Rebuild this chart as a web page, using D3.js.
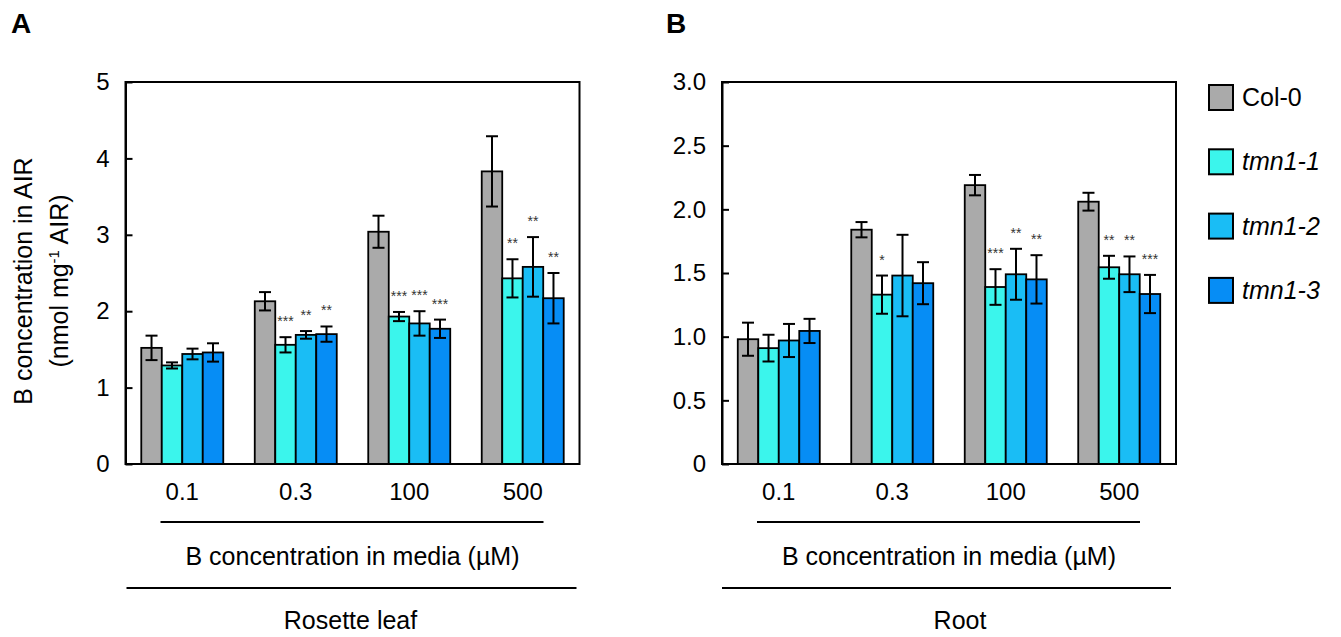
<!DOCTYPE html>
<html>
<head>
<meta charset="utf-8">
<script src="https://cdn.jsdelivr.net/npm/d3@7"></script>
<style>
  body { margin: 0; background: #fff; }
  svg { font-family: "Liberation Sans", Arial, sans-serif; }
</style>
</head>
<body>
<svg id="chart" width="1341" height="637"></svg>
<script>
// data
const categories = ["0.1", "0.3", "100", "500"];
const series = ["Col-0", "tmn1-1", "tmn1-2", "tmn1-3"];
const colors = ["#aaaaaa", "#3bf5ec", "#1abdf5", "#068df5"];

// rosette leaf (nmol mg-1 AIR)
const leafCol0 = [1.52, 2.13, 3.04, 3.83];
const leafTmn11 = [1.29, 1.56, 1.93, 2.43];
const leafTmn12 = [1.44, 1.69, 1.84, 2.58];
const leafTmn13 = [1.46, 1.70, 1.77, 2.17];
const leafErrCol0 = [0.16, 0.12, 0.21, 0.46];
const leafErrTmn11 = [0.04, 0.10, 0.06, 0.25];
const leafErrTmn12 = [0.07, 0.05, 0.16, 0.39];
const leafErrTmn13 = [0.12, 0.10, 0.12, 0.33];
const leafStars = [["", "", "", ""], ["", "***", "***", "**"], ["", "**", "***", "**"], ["", "**", "***", "**"]];
const leafTicks = [0, 1, 2, 3, 4, 5];

// root
const rootCol0 = [0.98, 1.84, 2.19, 2.06];
const rootTmn11 = [0.91, 1.33, 1.39, 1.545];
const rootTmn12 = [0.97, 1.48, 1.49, 1.49];
const rootTmn13 = [1.045, 1.42, 1.45, 1.335];
const rootErrCol0 = [0.13, 0.06, 0.08, 0.07];
const rootErrTmn11 = [0.105, 0.15, 0.14, 0.09];
const rootErrTmn12 = [0.13, 0.32, 0.20, 0.14];
const rootErrTmn13 = [0.095, 0.165, 0.19, 0.15];
const rootStars = [["", "", "", ""], ["", "*", "***", "**"], ["", "", "**", "**"], ["", "", "**", "***"]];
const rootTicks = [0, 0.5, 1, 1.5, 2, 2.5, 3];

const svg = d3.select("#chart");

function drawPanel(opt) {
  const x0 = opt.left, top = 82, w = 454, h = 382;
  const g = svg.append("g").attr("transform", `translate(${x0},${top})`);

  const x = d3.scaleBand().domain(categories).range([0, w])
    .paddingInner(0.2775).paddingOuter(0.139);
  const xs = d3.scaleBand().domain(series).range([0, x.bandwidth()]);
  const y = d3.scaleLinear().domain([0, opt.max]).range([h, 0]);

  // rows: one per bar
  const rows = [];
  series.forEach((s, si) => {
    categories.forEach((c, ci) => {
      rows.push({ s, si, c, v: opt.means[si][ci], e: opt.errs[si][ci], star: opt.stars[si][ci] });
    });
  });

  g.selectAll("rect.bar").data(rows).join("rect")
    .attr("class", "bar")
    .attr("x", d => x(d.c) + xs(d.s))
    .attr("y", d => y(d.v))
    .attr("width", xs.bandwidth())
    .attr("height", d => h - y(d.v))
    .attr("fill", d => colors[d.si])
    .attr("stroke", "#000")
    .attr("stroke-width", 1.8);

  // error bars
  const cx = d => x(d.c) + xs(d.s) + xs.bandwidth() / 2;
  const eb = g.selectAll("g.err").data(rows).join("g").attr("class", "err")
    .attr("stroke", "#000").attr("stroke-width", 2);
  eb.append("line").attr("x1", cx).attr("x2", cx)
    .attr("y1", d => y(d.v + d.e)).attr("y2", d => y(d.v - d.e));
  eb.append("line").attr("x1", d => cx(d) - 6).attr("x2", d => cx(d) + 6)
    .attr("y1", d => y(d.v + d.e)).attr("y2", d => y(d.v + d.e));
  eb.append("line").attr("x1", d => cx(d) - 6).attr("x2", d => cx(d) + 6)
    .attr("y1", d => y(d.v - d.e)).attr("y2", d => y(d.v - d.e));

  // significance stars
  g.selectAll("text.star").data(rows.filter(d => d.star)).join("text")
    .attr("class", "star")
    .attr("x", cx)
    .attr("y", d => y(d.v + d.e) - 11)
    .attr("text-anchor", "middle")
    .style("font-size", "14px")
    .style("fill", "#333")
    .text(d => d.star);

  // frame
  g.append("rect").attr("width", w).attr("height", h)
    .attr("fill", "none").attr("stroke", "#000").attr("stroke-width", 2);

  // y axis, ticks pointing inward
  const ya = g.append("g").call(d3.axisLeft(y).tickValues(opt.ticks)
      .tickFormat(d => d === 0 ? "0" : opt.fmt(d)).tickSizeInner(-7).tickSizeOuter(0).tickPadding(16));
  ya.select(".domain").attr("stroke-width", 2);
  ya.selectAll(".tick line").attr("stroke-width", 2);
  ya.selectAll("text").style("font-size", "24px").attr("fill", "#000")
    .attr("font-family", "Liberation Sans, Arial, sans-serif");

  // category labels
  g.selectAll("text.cat").data(categories).join("text")
    .attr("class", "cat")
    .attr("x", d => x(d) + x.bandwidth() / 2)
    .attr("y", 418)
    .attr("text-anchor", "middle")
    .style("font-size", "24px")
    .text(d => d);

  g.append("line").attr("x1", 35).attr("x2", w - 36).attr("y1", 440).attr("y2", 440)
    .attr("stroke", "#000").attr("stroke-width", 2);
  g.append("text").attr("x", w / 2).attr("y", 483).attr("text-anchor", "middle")
    .style("font-size", "25px").text("B concentration in media (µM)");
  g.append("line").attr("x1", opt.line2[0]).attr("x2", opt.line2[1]).attr("y1", 506).attr("y2", 506)
    .attr("stroke", "#000").attr("stroke-width", 2);
  g.append("text").attr("x", w / 2 + opt.titleShift).attr("y", 547).attr("text-anchor", "middle")
    .style("font-size", "25px").text(opt.title);

  // panel letter
  svg.append("text").attr("x", opt.letterX).attr("y", 33)
    .style("font-size", "28px").style("font-weight", "bold").text(opt.letter);
}

drawPanel({
  left: 125.5, max: 5, ticks: leafTicks, fmt: d3.format("d"),
  means: [leafCol0, leafTmn11, leafTmn12, leafTmn13],
  errs: [leafErrCol0, leafErrTmn11, leafErrTmn12, leafErrTmn13],
  stars: leafStars, title: "Rosette leaf", titleShift: -2, line2: [1, 451], letter: "A", letterX: 11
});

drawPanel({
  left: 722, max: 3, ticks: rootTicks, fmt: d3.format(".1f"),
  means: [rootCol0, rootTmn11, rootTmn12, rootTmn13],
  errs: [rootErrCol0, rootErrTmn11, rootErrTmn12, rootErrTmn13],
  stars: rootStars, title: "Root", titleShift: 11, line2: [0, 449], letter: "B", letterX: 666
});

// y axis title of panel A
const yt = svg.append("g").attr("transform", "translate(0,281) rotate(-90)");
yt.append("text").attr("x", 0).attr("y", 32).attr("text-anchor", "middle")
  .style("font-size", "25px").text("B concentration in AIR");
const l2 = yt.append("text").attr("x", 0).attr("y", 68).attr("text-anchor", "middle")
  .style("font-size", "25px");
l2.append("tspan").text("(nmol mg");
l2.append("tspan").attr("dy", -9).style("font-size", "15px").text("-1");
l2.append("tspan").attr("dy", 9).text(" AIR)");

// legend
const lg = svg.append("g").attr("transform", "translate(1209,85)");
const li = lg.selectAll("g").data(series).join("g")
  .attr("transform", (d, i) => `translate(0,${i * 64.3})`);
li.append("rect").attr("width", 24).attr("height", 25)
  .attr("fill", (d, i) => colors[i]).attr("stroke", "#000").attr("stroke-width", 2);
li.append("text").attr("x", 33).attr("y", 21)
  .style("font-size", "25px")
  .style("font-style", (d, i) => i === 0 ? "normal" : "italic")
  .text(d => d);
</script>
</body>
</html>
